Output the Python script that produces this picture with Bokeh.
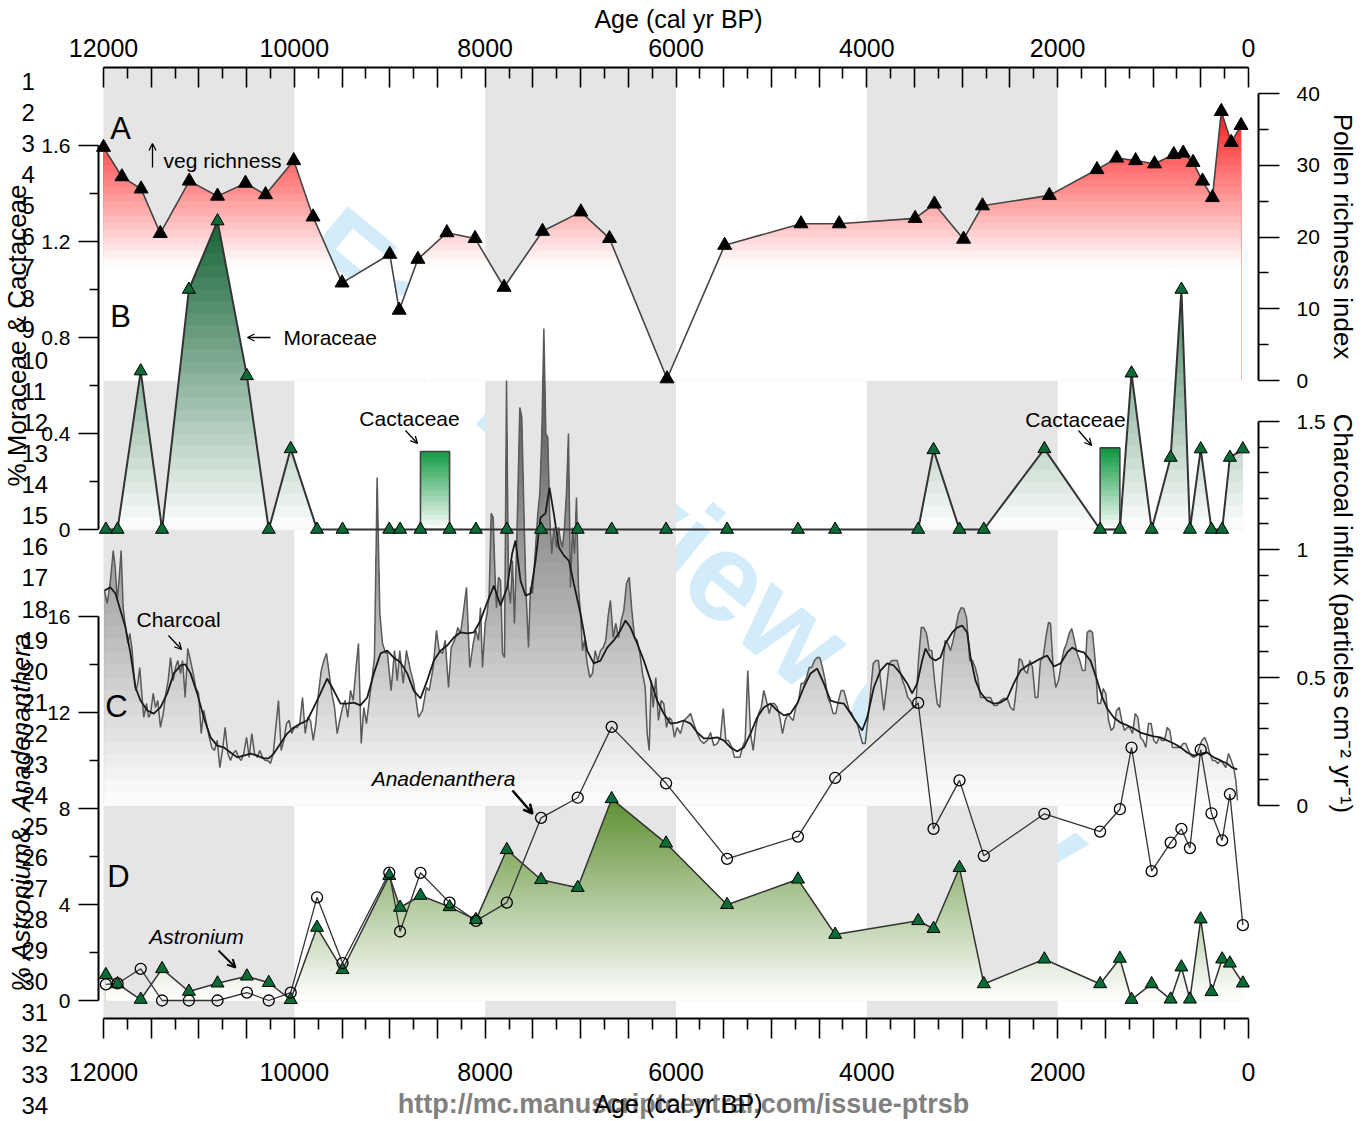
import numpy as np
from bokeh.plotting import figure
from bokeh.models import (Range1d, LinearAxis, FixedTicker, Label, Arrow, OpenHead,
                          BoxAnnotation, CustomJSTickFormatter)
from bokeh.embed import file_html
from bokeh.resources import INLINE

# ---------------------------------------------------------------- data
richness_age = [12000, 11807, 11606, 11405, 11101, 10805, 10512, 10302, 10006, 9804,
                9500, 9000, 8901, 8705, 8401, 8106, 7802, 7399, 6997, 6697,
                6094, 5490, 4690, 4290, 3494, 3292, 2986, 2788, 2087, 1588,
                1381, 1183, 985, 783, 684, 581, 482, 378, 285, 181, 78]
richness_index = [32.5, 28.4, 26.7, 20.5, 27.8, 25.7, 27.5, 25.9, 30.65, 22.8,
                  13.6, 17.6, 9.8, 16.9, 20.6, 19.8, 13.0, 20.8, 23.5, 19.8,
                  0.24, 18.85, 21.85, 21.85, 22.6, 24.6, 19.7, 24.35, 25.8, 29.4,
                  31.0, 30.65, 30.2, 31.5, 31.7, 30.4, 27.8, 25.5, 37.5, 33.2, 35.55]

pollen_age = [11975, 11853, 11610, 11386, 11105, 10805, 10497, 10268, 10038, 9762,
              9495, 9005, 8892, 8678, 8373, 8097, 7773, 7414, 7030, 6674,
              6104, 5465, 4722, 4332, 3462, 3301, 3029, 2774, 2139, 1555,
              1348, 1226, 1015, 816, 703, 614, 501, 388, 276, 195, 59]
moraceae_pct = [0, 0, 0.66, 0, 1.0, 1.285, 0.64, 0, 0.336, 0,
                0, 0, 0, 0, 0, 0, 0, 0, 0, 0,
                0, 0, 0, 0, 0, 0.332, 0, 0, 0.336, 0,
                0, 0.651, 0, 0.30, 1.0, 0, 0.335, 0, 0, 0.30, 0.335]
astronium_pct = [1.07, 0.69, 0.04, 1.32, 0.375, 0.72, 1.01, 0.74, 0.03, 3.04,
                 1.28, 5.2, 3.875, 4.375, 3.9, 3.36, 6.28, 5.03, 4.7, 8.4,
                 6.55, 3.99, 5.05, 2.75, 3.32, 2.99, 5.53, 0.69, 1.72, 0.69,
                 1.75, 0.04, 0.69, 0.05, 1.39, 0.05, 3.39, 0.36, 1.72, 1.55, 0.72]
anadenanthera_pct = [0.67, 0.71, 1.32, 0, 0, 0, 0.33, 0, 0.33, 4.3,
                     1.56, 5.33, 2.875, 5.32, 4.08, 3.32, 4.08, 7.61, 8.45, 11.4,
                     9.05, 5.9, 6.83, 9.28, 12.4, 7.15, 9.17, 6.03, 7.78, 7.04,
                     7.97, 10.54, 5.39, 6.58, 7.15, 6.35, 10.45, 7.8, 6.67, 8.6, 3.14]

cactaceae_old_age = [8678, 1555]
cactaceae_young_age = [8373, 1348]
cactaceae_pct = [0.325, 0.34]

charcoal_age = [
    11990, 11961, 11927, 11898, 11877, 11856, 11835, 11815, 11794, 11769, 11745, 11724, 11703, 11682,
    11661, 11641, 11620, 11599, 11578, 11549, 11528, 11507, 11479, 11455, 11431, 11403, 11374, 11347,
    11322, 11298, 11270, 11245, 11221, 11193, 11172, 11144, 11117, 11088, 11060, 11033, 11004, 10976,
    10949, 10921, 10892, 10865, 10837, 10808, 10781, 10753, 10725, 10697, 10669, 10641, 10613, 10585,
    10557, 10530, 10501, 10473, 10446, 10417, 10389, 10362, 10334, 10305, 10278, 10250, 10221, 10194,
    10166, 10138, 10110, 10082, 10054, 10027, 9998, 9970, 9943, 9914, 9886, 9859, 9831, 9802, 9775,
    9747, 9718, 9691, 9663, 9635, 9607, 9579, 9551, 9524, 9495, 9467, 9440, 9411, 9383, 9356, 9328,
    9299, 9272, 9244, 9215, 9188, 9160, 9132, 9104, 9076, 9041,
    9027, 8986, 8950, 8922, 8895, 8859, 8825, 8783, 8748, 8699, 8657, 8615, 8587, 8545, 8510, 8482,
    8447, 8419, 8384, 8356, 8321, 8287, 8258, 8230, 8196, 8161, 8125, 8098, 8070, 8049, 8028, 8000,
    7979, 7958, 7937, 7916, 7895, 7881, 7860, 7839, 7818, 7797, 7776, 7756, 7735, 7714, 7693, 7665,
    7637, 7616, 7595, 7574, 7546, 7525, 7504, 7476, 7448, 7427, 7406, 7385, 7364, 7344, 7323, 7302,
    7281, 7252, 7231, 7210, 7190, 7169, 7148, 7127, 7106, 7085, 7064, 7043, 7022, 7001, 6980, 6959,
    6931, 6903, 6875, 6847, 6820, 6791, 6763, 6736, 6708, 6687, 6658, 6631, 6603, 6574, 6547, 6519,
    6490, 6463, 6435, 6407, 6379, 6351, 6323, 6302, 6281, 6260, 6239, 6212, 6184, 6155, 6128, 6100,
    6071, 6044, 6016, 5988,
    5953, 5918, 5883, 5848, 5814, 5778, 5743, 5709, 5673, 5638, 5604, 5568, 5534, 5505, 5478, 5450,
    5415, 5387, 5359, 5331, 5303, 5275, 5248, 5219, 5191, 5164, 5135, 5107, 5080, 5052, 5023, 4996,
    4968, 4939, 4912, 4884, 4856, 4828, 4800, 4772, 4745, 4716, 4688, 4661, 4632, 4604, 4577, 4549,
    4520, 4493, 4465, 4436, 4409, 4381, 4353, 4325, 4297, 4269, 4241, 4213, 4185, 4158, 4129, 4101,
    4074, 4045, 4017, 3990, 3962, 3933, 3906, 3878, 3849, 3822, 3794, 3766, 3738, 3710, 3682, 3655,
    3626, 3598, 3571, 3542, 3514, 3487, 3459, 3430, 3403, 3375, 3346, 3319, 3291, 3263, 3235, 3207,
    3179, 3151, 3123, 3095, 3068, 3039, 3011, 2984, 2955,
    2921, 2893, 2864, 2837, 2809, 2774, 2739, 2704, 2669, 2634, 2599, 2565, 2529, 2494, 2460, 2431,
    2403, 2376, 2348, 2319, 2292, 2264, 2236, 2208, 2180, 2152, 2124, 2096, 2075, 2047, 2020, 1991,
    1963, 1936, 1907, 1879, 1852, 1824, 1795, 1768, 1740, 1712, 1691, 1663, 1635, 1607, 1579, 1551,
    1523, 1496, 1467, 1439, 1412, 1383, 1355, 1328, 1300, 1271, 1244, 1216, 1187, 1160, 1132, 1104,
    1076, 1048, 1020, 993, 964, 936, 909, 880, 852, 825, 797, 768, 741, 713, 684, 657, 629, 601,
    573, 545, 517, 489, 461, 433, 406, 377, 349, 322, 293, 265, 238, 210, 181, 154, 133, 115]
charcoal_influx = [
    0.840, 0.789, 0.879, 0.996, 0.930, 0.801, 0.891, 0.996, 0.773, 0.695, 0.633, 0.672, 0.617, 0.516,
    0.449, 0.477, 0.539, 0.438, 0.344, 0.398, 0.344, 0.359, 0.438, 0.383, 0.410, 0.305, 0.359, 0.438,
    0.488, 0.578, 0.488, 0.539, 0.566, 0.516, 0.566, 0.422, 0.613, 0.566, 0.516, 0.461, 0.438, 0.281,
    0.371, 0.320, 0.266, 0.227, 0.215, 0.254, 0.148, 0.215, 0.305, 0.203, 0.176, 0.203, 0.215, 0.188,
    0.176, 0.203, 0.266, 0.188, 0.281, 0.203, 0.188, 0.215, 0.188, 0.176, 0.176, 0.164, 0.203, 0.305,
    0.410, 0.215, 0.254, 0.320, 0.332, 0.281, 0.305, 0.305, 0.320, 0.422, 0.281, 0.344, 0.332, 0.254, 0.320,
    0.438, 0.527, 0.566, 0.594, 0.516, 0.438, 0.383, 0.281, 0.332, 0.383, 0.410, 0.344, 0.449, 0.410, 0.527, 0.633,
    0.242, 0.383, 0.320, 0.410, 0.488, 0.578, 1.281, 0.750, 0.633, 0.594,
    0.605, 0.449, 0.605, 0.488, 0.605, 0.477, 0.605, 0.527, 0.477, 0.344, 0.371, 0.461, 0.449, 0.539, 0.684, 0.605,
    0.594, 0.645, 0.461, 0.617, 0.645, 0.695, 0.672, 0.750, 0.852, 0.539, 0.633, 0.684, 0.645, 0.773, 0.539, 0.711,
    0.750, 0.828, 1.141, 1.125, 0.879, 0.773, 0.891, 0.879, 0.594, 0.578, 1.660, 0.852, 0.789, 0.957, 0.711, 1.086,
    1.555, 1.516, 1.164, 0.852, 0.617, 0.852, 0.828, 0.984, 1.141, 1.219, 1.453, 1.863, 1.453, 1.438, 1.125, 0.984,
    1.086, 1.008, 1.086, 1.035, 1.008, 1.086, 1.219, 1.453, 0.852, 1.086, 0.984, 1.203, 0.852, 0.750, 0.605, 0.645,
    0.555, 0.500, 0.516, 0.605, 0.566, 0.605, 0.617, 0.645, 0.750, 0.801, 0.656, 0.711, 0.656, 0.723, 0.762, 0.867,
    0.891, 0.762, 0.656, 0.645, 0.594, 0.516, 0.461, 0.281, 0.215, 0.488, 0.383, 0.500, 0.332, 0.410, 0.398, 0.305,
    0.344, 0.332, 0.266, 0.305,
    0.281, 0.332, 0.344, 0.359, 0.320, 0.281, 0.254, 0.242, 0.254, 0.285, 0.234, 0.242, 0.266, 0.379, 0.254, 0.254,
    0.227, 0.188, 0.188, 0.188, 0.227, 0.254, 0.527, 0.281, 0.215, 0.305, 0.359, 0.383, 0.449, 0.410, 0.359, 0.398,
    0.398, 0.383, 0.344, 0.281, 0.332, 0.359, 0.344, 0.332, 0.383, 0.410, 0.477, 0.477, 0.500, 0.539, 0.539, 0.566,
    0.578, 0.578, 0.539, 0.488, 0.422, 0.398, 0.359, 0.359, 0.410, 0.449, 0.449, 0.410, 0.371, 0.359, 0.332, 0.320,
    0.281, 0.242, 0.242, 0.332, 0.438, 0.555, 0.566, 0.566, 0.461, 0.371, 0.461, 0.555, 0.566, 0.566, 0.566, 0.527,
    0.488, 0.461, 0.422, 0.410, 0.383, 0.383, 0.566, 0.695, 0.695, 0.672, 0.605, 0.605, 0.488, 0.398, 0.383, 0.527,
    0.645, 0.633, 0.605, 0.645, 0.695, 0.750, 0.773, 0.770, 0.734,
    0.566, 0.566, 0.539, 0.500, 0.422, 0.422, 0.422, 0.422, 0.391, 0.391, 0.410, 0.418, 0.418, 0.383, 0.371, 0.461,
    0.574, 0.566, 0.527, 0.516, 0.566, 0.539, 0.422, 0.422, 0.566, 0.578, 0.656, 0.715, 0.711, 0.539, 0.461, 0.488,
    0.555, 0.605, 0.633, 0.672, 0.691, 0.645, 0.594, 0.566, 0.527, 0.527, 0.676, 0.684, 0.676, 0.566, 0.398, 0.398,
    0.457, 0.438, 0.332, 0.293, 0.305, 0.371, 0.383, 0.332, 0.293, 0.305, 0.305, 0.281, 0.359, 0.344, 0.266, 0.254,
    0.227, 0.320, 0.320, 0.254, 0.242, 0.266, 0.254, 0.254, 0.305, 0.293, 0.227, 0.227, 0.227, 0.227, 0.242, 0.242, 0.215, 0.195,
    0.188, 0.195, 0.227, 0.254, 0.266, 0.242, 0.203, 0.176, 0.176, 0.164, 0.176, 0.164, 0.148, 0.203, 0.176, 0.145, 0.098, 0.020]

charcoal_smooth_age = [
    11990, 11927, 11874, 11822, 11769, 11717, 11665, 11612, 11542, 11473, 11403, 11332, 11263, 11193,
    11141, 11088, 11018, 10949, 10878, 10808, 10739, 10669, 10599, 10530, 10459, 10389, 10320, 10268,
    10215, 10145, 10075, 10006, 9935, 9865, 9796, 9726, 9656, 9586, 9516, 9446, 9377, 9307, 9236,
    9167, 9097, 9027, 8958, 8887, 8817, 8748, 8678, 8608, 8538, 8468, 8398, 8329, 8259, 8188, 8119,
    8049, 7979, 7909, 7839, 7769, 7717, 7682, 7630, 7577, 7525, 7472, 7420, 7368, 7326, 7281, 7228,
    7176, 7123, 7071, 7001, 6931, 6862, 6791, 6721, 6652, 6582, 6529, 6477, 6407, 6337, 6267, 6197,
    6128, 6058, 5987, 5918, 5848, 5778, 5709, 5638, 5568, 5499, 5429, 5359, 5289, 5219, 5149, 5080,
    5010, 4939, 4870, 4800, 4730, 4661, 4590, 4520, 4451, 4381, 4311, 4241, 4171, 4101, 4049, 3996,
    3927, 3857, 3787, 3718, 3647, 3577, 3525, 3472, 3420, 3385, 3333, 3280, 3228, 3176, 3105, 3053,
    3001, 2948, 2913, 2861, 2809, 2739, 2669, 2599, 2529, 2460, 2390, 2319, 2250, 2180, 2110, 2040,
    1970, 1900, 1848, 1795, 1726, 1656, 1586, 1533, 1481, 1412, 1342, 1271, 1202, 1132, 1062, 993,
    922, 852, 783, 713, 643, 573, 501, 433, 364, 293, 224, 171, 118]
charcoal_smooth = [
    0.840, 0.852, 0.828, 0.762, 0.695, 0.594, 0.461, 0.410, 0.371, 0.359, 0.383, 0.438, 0.516, 0.547,
    0.551, 0.516, 0.438, 0.344, 0.266, 0.234, 0.227, 0.207, 0.188, 0.195, 0.203, 0.195, 0.184, 0.184,
    0.203, 0.242, 0.281, 0.305, 0.320, 0.332, 0.383, 0.438, 0.496, 0.449, 0.398, 0.398, 0.402, 0.391, 0.422,
    0.516, 0.594, 0.605, 0.578, 0.559, 0.516, 0.449, 0.418, 0.488, 0.566, 0.605, 0.625, 0.656, 0.676, 0.672, 0.676,
    0.723, 0.793, 0.859, 0.781, 0.852, 0.984, 1.035, 0.879, 0.820, 0.828, 0.957, 1.125, 1.141, 1.242, 1.141, 1.008,
    0.977, 0.957, 0.867, 0.750, 0.605, 0.555, 0.566, 0.617, 0.645, 0.684, 0.723, 0.695, 0.633, 0.566, 0.488, 0.410,
    0.359, 0.320, 0.324, 0.332, 0.320, 0.285, 0.262, 0.262, 0.266, 0.254, 0.227, 0.211, 0.227, 0.281, 0.344, 0.383,
    0.398, 0.371, 0.352, 0.359, 0.398, 0.461, 0.516, 0.535, 0.477, 0.410, 0.402, 0.398, 0.359, 0.320, 0.293, 0.344,
    0.461, 0.527, 0.555, 0.547, 0.516, 0.477, 0.438, 0.477, 0.566, 0.613, 0.578, 0.566, 0.578, 0.633, 0.676, 0.695,
    0.703, 0.676, 0.578, 0.488, 0.441, 0.410, 0.398, 0.402, 0.418, 0.477, 0.527, 0.547, 0.559, 0.574, 0.586, 0.543,
    0.555, 0.598, 0.617, 0.605, 0.598, 0.566, 0.488, 0.422, 0.379, 0.344, 0.324, 0.313, 0.301, 0.285, 0.277, 0.270,
    0.266, 0.254, 0.242, 0.227, 0.207, 0.195, 0.203, 0.207, 0.188, 0.176, 0.164, 0.148, 0.141]

shade_old = [12000, 8000, 4000]
shade_young = [10000, 6000, 2000]

age_ticks = list(range(0, 12001, 500))
age_minor_ticks = list(range(250, 12000, 500))
moraceae_ticks = [0, 0.4, 0.8, 1.2, 1.6]
moraceae_minor = [0.2, 0.6, 1.0, 1.4]
astronium_ticks = [0, 4, 8, 12, 16]
astronium_minor = [2, 6, 10, 14]
richness_ticks = [0, 10, 20, 30, 40]
richness_minor = [5, 15, 25, 35]
charcoal_ticks = [0, 0.5, 1, 1.5]
charcoal_minor = [0.1, 0.2, 0.3, 0.4, 0.6, 0.7, 0.8, 0.9, 1.1, 1.2, 1.3, 1.4]
line_numbers = [str(i) for i in range(1, 35)]

# ---------------------------------------------------------------- layout (canvas px)
FONT = "Liberation Sans"
W, H = 1364, 1121
F_LEFT, F_RIGHT, F_TOP, F_BOT = 103, 1248, 67, 1018   # plot box of the age axes
K = 12000.0 / (F_RIGHT - F_LEFT)                         # years per pixel


def age_at(px):
    return 12000.0 - (px - F_LEFT) * K


def panel_range(v_a, y_a, v_b, y_b):
    s = (v_b - v_a) / (y_b - y_a)
    return Range1d(start=v_a + (H - y_a) * s, end=v_a + (0 - y_a) * s)


p = figure(width=W, height=H, output_backend="svg", toolbar_location=None,
           x_range=Range1d(age_at(0), age_at(W)), y_range=Range1d(H, 0),
           x_axis_location=None, y_axis_location=None,
           min_border_left=0, min_border_right=0, min_border_top=0, min_border_bottom=0)
p.outline_line_color = None
p.background_fill_color = "white"
p.border_fill_color = "white"
p.grid.visible = False

p.extra_x_ranges = {"px": Range1d(0, W)}
p.extra_y_ranges = {
    "rich": panel_range(0, 380, 40, 93),
    "mor": panel_range(0, 529, 1.6, 145),
    "char": panel_range(0, 805, 1.5, 421),
    "ast": panel_range(0, 1000, 16, 616),
}


def lab(text, x, y, size, **kw):
    kw.setdefault("text_align", "left")
    kw.setdefault("text_baseline", "middle")
    kw.setdefault("text_font", FONT)
    kw.setdefault("text_color", "black")
    p.add_layout(Label(x=x, y=y, x_range_name="px", text=text,
                       text_font_size=f"{size}px", **kw))


def arrow(x0, y0, x1, y1, w=1.3, s=7):
    p.add_layout(Arrow(end=OpenHead(size=s, line_width=w, line_color="black"),
                       x_start=x0, y_start=y0, x_end=x1, y_end=y1,
                       x_range_name="px", line_width=w, line_color="black"))


# watermark (beneath everything)
lab("For Review Only", 694, 548, 126, text_align="center", text_font_style="bold",
    text_color="#d2ecfa", angle=-0.69, level="image")

# shaded periods
for a, b in zip(shade_old, shade_young):
    p.add_layout(BoxAnnotation(left=a, right=b, top=F_TOP, bottom=F_BOT,
                               fill_color="#e5e5e5", fill_alpha=1.0,
                               line_color=None, level="underlay"))


# ---------------------------------------------------------------- gradient fills
def mix(rgb, t):
    t = max(0.0, min(1.0, t))
    c = [int(round(255 + (v - 255) * t)) for v in rgb]
    return "#%02x%02x%02x" % tuple(c)


def densify(x, y, levels):
    x = np.asarray(x, float)
    y = np.asarray(y, float)
    ox, oy = [x[0]], [y[0]]
    for i in range(len(x) - 1):
        x0, y0, x1, y1 = x[i], y[i], x[i + 1], y[i + 1]
        pts = []
        if y1 != y0:
            for L in levels:
                if min(y0, y1) < L < max(y0, y1):
                    pts.append(((L - y0) / (y1 - y0), L))
        pts.sort()
        for t, L in pts:
            ox.append(x0 + t * (x1 - x0))
            oy.append(L)
        ox.append(x1)
        oy.append(y1)
    return np.array(ox), np.array(oy)


def painter_fill(x, y, v_white, v_top, nb, rgb, yr):
    edges = np.linspace(v_white, v_top, nb + 1)
    big = max(max(y), v_top) + 1.0
    items = []
    for k in range(nb - 1, -1, -1):
        hi = big if k == nb - 1 else edges[k + 1]
        mid = 0.5 * (edges[k] + edges[k + 1])
        items.append((hi, mix(rgb, (mid - v_white) / (v_top - v_white))))
    if v_white > 0:
        items.append((v_white, "#ffffff"))
    xs, ys = densify(x, y, [h for h, _ in items])
    zero = np.zeros_like(ys)
    for hi, col in items:
        p.varea(x=xs, y1=zero, y2=np.minimum(ys, hi), fill_color=col, y_range_name=yr)


painter_fill(richness_age, richness_index, 16.0, 40.0, 24, (255, 0, 0), "rich")
painter_fill(pollen_age, moraceae_pct, 0.0, 1.3, 26, (18, 98, 52), "mor")
painter_fill(charcoal_age, charcoal_influx, 0.0, 1.9, 38, (62, 62, 62), "char")
painter_fill(pollen_age, astronium_pct, 0.0, 8.5, 34, (92, 142, 48), "ast")

# Cactaceae bars with vertical gradient
cact_edges = np.linspace(0, 0.34, 18)
for k in range(len(cact_edges) - 2, -1, -1):
    hi = 10.0 if k == len(cact_edges) - 2 else cact_edges[k + 1]
    mid = 0.5 * (cact_edges[k] + cact_edges[k + 1])
    p.quad(left=cactaceae_old_age, right=cactaceae_young_age, bottom=0,
           top=np.minimum(cactaceae_pct, hi), fill_color=mix((8, 150, 58), mid / 0.34),
           line_color=None, y_range_name="mor")
p.quad(left=cactaceae_old_age, right=cactaceae_young_age, bottom=0, top=cactaceae_pct,
       fill_color=None, line_color="#444444", line_width=1.6, y_range_name="mor")

# ---------------------------------------------------------------- lines & markers
p.line(charcoal_age, charcoal_influx, line_color="#5a5a5a", line_width=1.5, y_range_name="char")
p.line(charcoal_smooth_age, charcoal_smooth, line_color="#1a1a1a", line_width=1.8, y_range_name="char")
p.line(richness_age, richness_index, line_color="#444444", line_width=1.6, y_range_name="rich")
p.line(pollen_age, moraceae_pct, line_color="#333333", line_width=2.0, y_range_name="mor")
p.line(pollen_age, astronium_pct, line_color="#333333", line_width=1.5, y_range_name="ast")
p.line(pollen_age, anadenanthera_pct, line_color="#333333", line_width=1.3, y_range_name="ast")

p.scatter(richness_age, richness_index, marker="triangle", size=14, fill_color="black",
          line_color="black", y_range_name="rich")
p.scatter(pollen_age, moraceae_pct, marker="triangle", size=13, fill_color="#0b6b36",
          line_color="black", line_width=1, y_range_name="mor")
p.scatter(pollen_age, astronium_pct, marker="triangle", size=13, fill_color="#0b6b36",
          line_color="black", line_width=1, y_range_name="ast")
p.scatter(pollen_age, anadenanthera_pct, marker="circle", size=11, fill_alpha=0,
          line_color="black", line_width=1.3, y_range_name="ast")

# ---------------------------------------------------------------- axes
age_fmt = CustomJSTickFormatter(code="const t = Math.round(tick); return (t % 2000 === 0) ? String(t) : '';")
num_fmt = CustomJSTickFormatter(code="return String(Math.round(tick * 1000) / 1000);")


def style_axis(ax, size):
    ax.axis_line_width = 2
    ax.axis_line_color = "black"
    ax.major_tick_line_width = 1.6
    ax.minor_tick_line_width = 1.6
    ax.major_label_text_font = FONT
    ax.major_label_text_font_size = f"{size}px"
    ax.major_label_text_color = "black"


top = LinearAxis(ticker=FixedTicker(ticks=age_ticks, minor_ticks=age_minor_ticks),
                 formatter=age_fmt, bounds=(0, 12000), fixed_location=F_TOP,
                 major_tick_in=20, major_tick_out=0,
                 minor_tick_in=11, minor_tick_out=0, major_label_standoff=11)
style_axis(top, 25)
p.add_layout(top, "above")
bot = LinearAxis(ticker=FixedTicker(ticks=age_ticks, minor_ticks=age_minor_ticks),
                 formatter=age_fmt, bounds=(0, 12000), fixed_location=F_BOT,
                 major_tick_in=0, major_tick_out=20,
                 minor_tick_in=0, minor_tick_out=11, major_label_standoff=24)
style_axis(bot, 25)
p.add_layout(bot, "below")

for rname, ticks, minor, bnds in [("mor", moraceae_ticks, moraceae_minor, (0, 1.6)),
                                  ("ast", astronium_ticks, astronium_minor, (0, 16))]:
    ax = LinearAxis(y_range_name=rname, ticker=FixedTicker(ticks=ticks, minor_ticks=minor),
                    formatter=num_fmt, bounds=bnds, fixed_location=age_at(98),
                    major_tick_in=0, major_tick_out=20, minor_tick_in=0, minor_tick_out=9,
                    major_label_standoff=8)
    style_axis(ax, 21)
    p.add_layout(ax, "left")

for rname, ticks, minor, bnds in [("rich", richness_ticks, richness_minor, (0, 40)),
                                  ("char", charcoal_ticks, charcoal_minor, (0, 1.5))]:
    ax = LinearAxis(y_range_name=rname, ticker=FixedTicker(ticks=ticks, minor_ticks=minor),
                    formatter=num_fmt, bounds=bnds, fixed_location=age_at(1258),
                    major_tick_in=0, major_tick_out=21, minor_tick_in=0, minor_tick_out=10,
                    major_label_standoff=17)
    style_axis(ax, 21)
    p.add_layout(ax, "right")

# ---------------------------------------------------------------- texts
lab("Age (cal yr BP)", 678, 18, 25, text_align="center")
lab("http://mc.manuscriptcentral.com/issue-ptrsb", 683, 1103, 27, text_align="center",
    text_font_style="bold", text_color="#808080")
lab("Age (cal yr BP)", 678, 1103, 25, text_align="center")

for i, t in enumerate(line_numbers):
    lab(t, 21, 81 + 31.03 * i, 24)

lab("% Moraceae & Cactaceae", 16, 335, 26, text_align="center", angle=np.pi / 2)
y0 = 990
for piece, style, w in [("% ", "normal", 30.3), ("Astronium", "italic", 117.0),
                        (" & ", "normal", 31.8), ("Anadenanthera", "italic", 177.8)]:
    lab(piece, 20, y0, 26, angle=np.pi / 2, text_font_style=style)
    y0 -= w
lab("Pollen richness index", 1342, 236, 26, text_align="center", angle=-np.pi / 2)
lab("Charcoal influx (particles cm\u207b\u00b2 yr\u207b\u00b9)", 1342, 613, 26,
    text_align="center", angle=-np.pi / 2)

lab("A", 120, 128, 31, text_align="center")
lab("B", 120, 316, 31, text_align="center")
lab("C", 116, 706, 31, text_align="center")
lab("D", 118, 876, 31, text_align="center")

lab("veg richness", 163, 160, 21)
arrow(152, 167, 152, 143)
lab("Moraceae", 283, 337, 21)
arrow(270, 337, 247, 337)
lab("Cactaceae", 409, 418, 21, text_align="center")
arrow(405, 430, 417, 443)
lab("Cactaceae", 1075, 419, 21, text_align="center")
arrow(1078, 430, 1091, 445)
lab("Charcoal", 136, 619, 21)
arrow(168, 635, 181, 649)
lab("Anadenanthera", 443, 778, 21, text_align="center", text_font_style="italic")
arrow(512, 790, 532, 813, w=2.5, s=9)
lab("Astronium", 196, 936, 21, text_align="center", text_font_style="italic")
arrow(218, 950, 235, 967, w=2, s=8)

open("out.html", "w").write(file_html(p, INLINE))
